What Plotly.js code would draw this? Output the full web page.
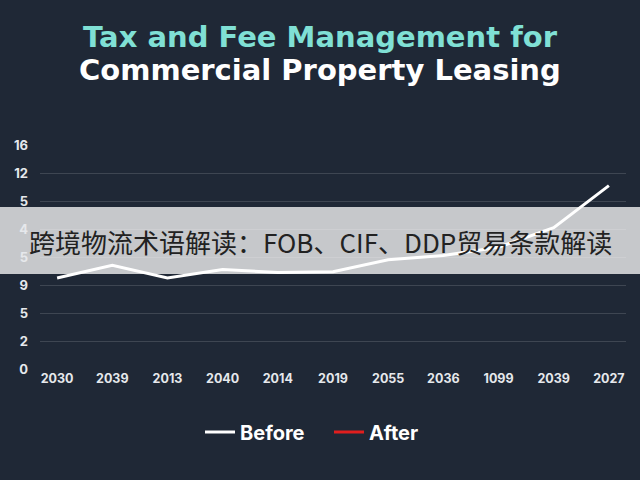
<!DOCTYPE html>
<html>
<head>
<meta charset="utf-8">
<script src="https://cdn.plot.ly/plotly-3.0.1.min.js"></script>
<style>
  body { margin: 0; background: #1f2836; }
  #chart { width: 640px; height: 480px; }
</style>
</head>
<body>
<div id="chart"></div>
<script>
// tick labels as printed on the chart
let xLabels = ["2030", "2039", "2013", "2040", "2014", "2019", "2055", "2036", "1099", "2039", "2027"]
let xPos = [0, 1, 2, 3, 4, 5, 6, 7, 8, 9, 10]
let yTickVals = [0, 2, 4, 6, 8, 10, 12, 14, 16]
let yTickText = ["0", "2", "5", "9", "5", "4", "5", "12", "16"]

// series
let beforeValues = [6.5, 7.4, 6.5, 7.1, 6.9, 6.95, 7.8, 8.1, 8.7, 10.1, 13.1]
let afterValues = [null, null, null, null, null, null, null, null, null, null, null]

let titleLine1 = "Tax and Fee Management for"
let titleLine2 = "Commercial Property Leasing"
let banner = "跨境物流术语解读：FOB、CIF、DDP贸易条款解读"

// plot box: x 40..626, y 145..369 (page px)
let plotW = 586
let plotH = 224

let traces = [
    {
        x: xPos,
        y: beforeValues,
        name: "Before",
        mode: "lines",
        type: "scatter",
        line: { color: "#ffffff", width: 3 }
    },
    {
        x: xPos,
        y: afterValues,
        name: "After",
        mode: "lines",
        type: "scatter",
        line: { color: "#e01e1e", width: 3 }
    }
]

let layout = {
    width: 640,
    height: 480,
    paper_bgcolor: "#1f2836",
    plot_bgcolor: "rgba(0,0,0,0)",
    margin: { l: 40, r: 14, t: 145, b: 111 },
    font: { family: "Inter, Roboto, sans-serif", color: "#e6e8ec" },
    title: {
        text: titleLine1,
        font: { family: "DejaVu Sans, sans-serif", size: 29, color: "#80e0d5", weight: "bold" },
        x: 0.5,
        xanchor: "center",
        y: 1 - 37 / 480,
        yanchor: "middle"
    },
    xaxis: {
        range: [-0.31, 10.31],
        tickvals: xPos,
        ticktext: xLabels,
        showgrid: false,
        zeroline: false,
        showline: false,
        tickfont: { size: 12.5, color: "#e6e8ec", weight: "bold" },
        ticks: ""
    },
    yaxis: {
        range: [0, 16],
        tickvals: yTickVals,
        ticktext: yTickText,
        gridcolor: "rgba(255,255,255,0.14)",
        gridwidth: 1.2,
        zeroline: false,
        showline: false,
        tickfont: { size: 13, color: "#e6e8ec", weight: "bold" },
        ticklabelstandoff: 11
    },
    showlegend: true,
    legend: {
        orientation: "h",
        x: (329 - 40) / plotW,
        xanchor: "center",
        y: -(432 - 369) / plotH,
        yanchor: "middle",
        font: { size: 20, color: "#ffffff", weight: "bold" },
        bgcolor: "rgba(0,0,0,0)",
        itemwidth: 30,
        entrywidth: 84
    },
    shapes: [
        {
            type: "rect",
            xref: "paper",
            yref: "paper",
            x0: -40 / plotW,
            x1: 600 / plotW,
            y0: (369 - 274) / plotH,
            y1: (369 - 207) / plotH,
            fillcolor: "#c6c8cb",
            line: { width: 0 },
            layer: "below"
        }
    ],
    annotations: [
        {
            text: titleLine2,
            xref: "paper",
            yref: "paper",
            x: (320 - 40) / plotW,
            y: (369 - 70) / plotH,
            xanchor: "center",
            yanchor: "middle",
            showarrow: false,
            font: { family: "DejaVu Sans, sans-serif", size: 29, color: "#ffffff", weight: "bold" }
        },
        {
            text: banner,
            xref: "paper",
            yref: "paper",
            x: (320 - 40) / plotW,
            y: (369 - 241) / plotH,
            xanchor: "center",
            yanchor: "middle",
            showarrow: false,
            font: { family: "Noto Sans CJK SC, sans-serif", size: 26, color: "#222222" }
        }
    ]
}

Plotly.newPlot("chart", traces, layout, { displayModeBar: false })
</script>
</body>
</html>
